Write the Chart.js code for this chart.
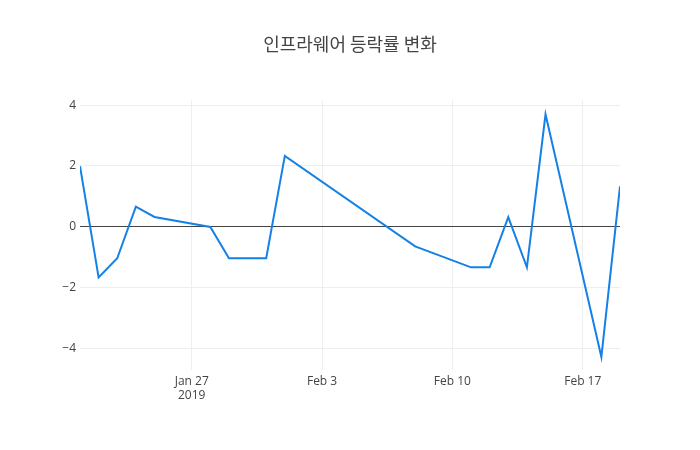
<!DOCTYPE html>
<html>
<head>
<meta charset="utf-8">
<script src="https://cdn.jsdelivr.net/npm/chart.js@4/dist/chart.umd.min.js"></script>
<style>
html,body{margin:0;padding:0;background:#fff;}
#wrap{width:700px;height:450px;}
</style>
</head>
<body>
<div id="wrap"><canvas id="c" width="700" height="450"></canvas></div>
<script>
const titleText = '인프라웨어 등락률 변화';
const dates = ['2019-01-21','2019-01-22','2019-01-23','2019-01-24','2019-01-25','2019-01-28','2019-01-29','2019-01-31','2019-02-01','2019-02-08','2019-02-11','2019-02-12','2019-02-13','2019-02-14','2019-02-15','2019-02-18','2019-02-19'];
const values = [1.99,-1.67,-1.04,0.66,0.32,-0.01,-1.04,-1.04,2.33,-0.65,-1.34,-1.34,0.31,-1.34,3.70,-4.29,1.33];
const xTickDates = ['2019-01-27','2019-02-03','2019-02-10','2019-02-17'];
const xTickLabels = [['Jan 27','2019'],'Feb 3','Feb 10','Feb 17'];
const yTickValues = [-4,-2,0,2,4];
const xRangeDates = ['2019-01-21','2019-02-19'];
const yRange = [-4.72, 4.17];

const DAY = 86400000;
const base = Date.parse(xRangeDates[0] + 'T00:00:00Z');
const toDay = s => (Date.parse(s + 'T00:00:00Z') - base) / DAY;
const points = dates.map((d, i) => ({x: toDay(d), y: values[i]}));
const xTicks = xTickDates.map(toDay);

new Chart(document.getElementById('c'), {
  type: 'line',
  data: {
    datasets: [{
      data: points,
      borderColor: '#1580e6',
      borderWidth: 2,
      pointRadius: 0,
      tension: 0,
      fill: false
    }]
  },
  options: {
    responsive: false,
    animation: false,
    layout: {padding: 0},
    plugins: {
      legend: {display: false},
      tooltip: {enabled: false},
      title: {
        display: true,
        text: titleText,
        color: '#444',
        font: {family: "'Noto Sans CJK KR', 'Open Sans', sans-serif", size: 18, weight: 'normal'},
        padding: {top: 33, bottom: 45.4}
      }
    },
    scales: {
      x: {
        type: 'linear',
        min: toDay(xRangeDates[0]),
        max: toDay(xRangeDates[1]),
        afterBuildTicks: s => { s.ticks = xTicks.map(v => ({value: v})); },
        afterFit: s => { s.height = 80; },
        border: {display: false},
        grid: {color: '#eee', lineWidth: 1, drawTicks: false},
        ticks: {
          color: '#444',
          padding: 4,
          maxRotation: 0,
          autoSkip: false,
          font: {family: "'Open Sans', sans-serif", size: 12},
          callback: v => { const i = xTicks.indexOf(v); return i >= 0 ? xTickLabels[i] : ''; }
        }
      },
      y: {
        min: yRange[0],
        max: yRange[1],
        afterBuildTicks: s => { s.ticks = yTickValues.map(v => ({value: v})); },
        afterFit: s => { s.width = 80; },
        border: {display: false},
        grid: {
          drawTicks: false,
          color: ctx => (ctx.tick && ctx.tick.value === 0) ? '#444' : '#eee',
          lineWidth: 1
        },
        ticks: {
          color: '#444',
          padding: 4,
          font: {family: "'Open Sans', sans-serif", size: 12},
          callback: v => (v < 0 ? '\u2212' + Math.abs(v) : String(v))
        }
      },
      yRight: {
        position: 'right',
        display: true,
        min: yRange[0],
        max: yRange[1],
        afterFit: s => { s.width = 80; },
        border: {display: false},
        grid: {display: false},
        ticks: {display: false}
      }
    }
  }
});
</script>
</body>
</html>
